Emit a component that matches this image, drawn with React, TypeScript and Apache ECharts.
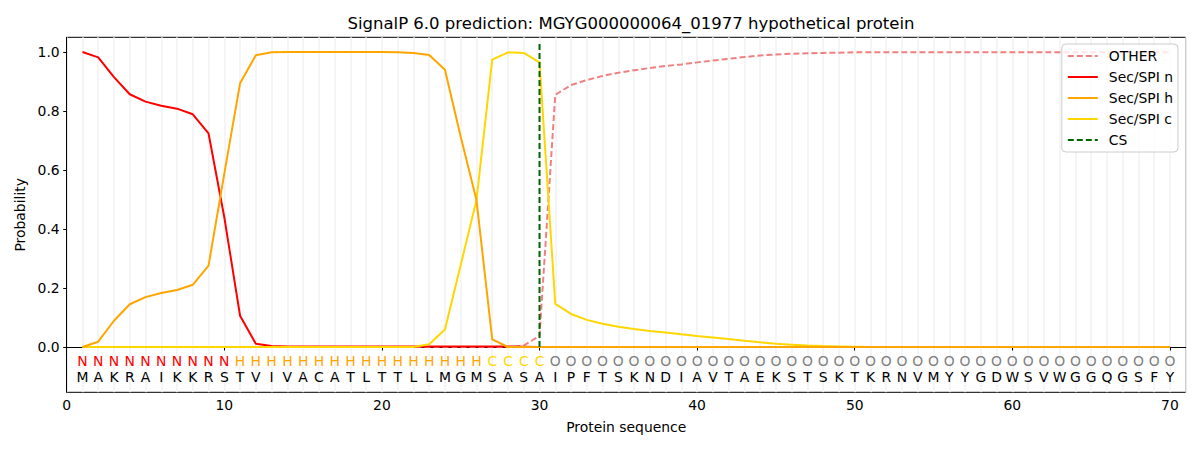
import React, { useEffect, useRef } from "react";
import * as echarts from "echarts";

const residues = "MAKRAIKKRSTVIVACATLTTLLMGMSASAIPFTSKNDIAVTAEKSTSKTKRNVMYYGDWSVWGGQGSFY".split("");
const regionLabels = "NNNNNNNNNNHHHHHHHHHHHHHHHHCCCCOOOOOOOOOOOOOOOOOOOOOOOOOOOOOOOOOOOOOOOO".split("");
const positions = residues.map((_, i) => i + 1);

const otherProb = [
  0, 0, 0, 0, 0, 0, 0, 0, 0, 0,
  0, 0, 0, 0, 0, 0, 0, 0, 0, 0,
  0, 0, 0, 0, 0, 0, 0, 0, 0.005, 0.038,
  0.855, 0.888, 0.905, 0.919, 0.93, 0.938, 0.946, 0.953, 0.958, 0.965,
  0.971, 0.977, 0.983, 0.988, 0.992, 0.994, 0.996, 0.997, 0.998, 0.999,
  0.999, 0.999, 0.999, 0.999, 0.999, 0.999, 0.999, 0.999, 0.999, 0.999,
  0.999, 0.999, 0.999, 0.999, 0.999, 0.999, 0.999, 0.999, 0.999, 0.999,
];
const secN = [
  1.0, 0.982, 0.915, 0.857, 0.832, 0.818, 0.808, 0.789, 0.724, 0.44,
  0.106, 0.011, 0.003, 0.002, 0.002, 0.002, 0.002, 0.002, 0.002, 0.002,
  0.002, 0.002, 0.002, 0.002, 0.002, 0.002, 0.002, 0.002, 0.001, 0,
  0, 0, 0, 0, 0, 0, 0, 0, 0, 0,
  0, 0, 0, 0, 0, 0, 0, 0, 0, 0,
  0, 0, 0, 0, 0, 0, 0, 0, 0, 0,
  0, 0, 0, 0, 0, 0, 0, 0, 0, 0,
];
const secH = [
  0, 0.018, 0.089, 0.145, 0.169, 0.183, 0.193, 0.211, 0.276, 0.588,
  0.894, 0.989, 0.999, 1.0, 1.0, 1.0, 1.0, 1.0, 1.0, 1.0,
  0.999, 0.997, 0.99, 0.94, 0.713, 0.498, 0.026, 0, 0, 0,
  0, 0, 0, 0, 0, 0, 0, 0, 0, 0,
  0, 0, 0, 0, 0, 0, 0, 0, 0, 0,
  0, 0, 0, 0, 0, 0, 0, 0, 0, 0,
  0, 0, 0, 0, 0, 0, 0, 0, 0, 0,
];
const secC = [
  0, 0, 0, 0, 0, 0, 0, 0, 0, 0,
  0, 0, 0, 0, 0, 0, 0, 0, 0, 0,
  0, 0, 0.009, 0.059, 0.278, 0.498, 0.974, 0.999, 0.997, 0.965,
  0.146, 0.112, 0.092, 0.079, 0.069, 0.061, 0.054, 0.049, 0.043, 0.037,
  0.032, 0.027, 0.021, 0.016, 0.011, 0.008, 0.005, 0.003, 0.002, 0.001,
  0, 0, 0, 0, 0, 0, 0, 0, 0, 0,
  0, 0, 0, 0, 0, 0, 0, 0, 0, 0,
];
const csPosition = [30, 30];
const csRange = [0, 1.037];
const xTicks = [0, 10, 20, 30, 40, 50, 60, 70];
const yTicks = [0, 0.2, 0.4, 0.6, 0.8, 1.0];

const labelColors: Record<string, string> = {
  N: "#ff0000",
  H: "#ffa500",
  C: "#ffd700",
  O: "#808080",
};

const FONT = "DejaVu Sans";

export default function App() {
  const ref = useRef<HTMLDivElement>(null);
  useEffect(() => {
    document.body.style.margin = "0";
    if (!ref.current) return;
    const chart = echarts.init(ref.current, null, { renderer: "svg" });
    const pair = (arr: number[]) => positions.map((x, i) => [x, arr[i]]);
    const lineSeries = (name: string, data: number[][], color: string, z: number, dashed: boolean) => ({
      name,
      type: "line",
      data,
      symbol: "none",
      showSymbol: false,
      z,
      lineStyle: { color, width: 2, type: dashed ? [6, 3] : "solid" },
      itemStyle: { color },
    });
    chart.setOption({
      animation: false,
      backgroundColor: "#ffffff",
      title: {
        text: "SignalP 6.0 prediction: MGYG000000064_01977 hypothetical protein",
        left: 626,
        top: 10,
        textAlign: "center",
        textStyle: { fontFamily: FONT, fontSize: 16.5, fontWeight: "normal", color: "#000" },
      },
      grid: {
        left: 66.7,
        right: 14.3,
        top: 37.3,
        bottom: 57.7,
        show: true,
        borderColor: "#000",
        borderWidth: 1,
        backgroundColor: "transparent",
      },
      legend: {
        data: ["OTHER", "Sec/SPI n", "Sec/SPI h", "Sec/SPI c", "CS"],
        orient: "vertical",
        right: 22,
        top: 44,
        itemWidth: 30,
        itemHeight: 14,
        itemGap: 7,
        padding: [5, 5, 5, 5],
        borderColor: "#cccccc",
        borderWidth: 1,
        borderRadius: 4,
        backgroundColor: "rgba(255,255,255,0.8)",
        itemStyle: { opacity: 0 },
        textStyle: { fontFamily: FONT, fontSize: 13.9, color: "#000", padding: [0, 0, 0, 6] },
      },
      xAxis: [
        {
          type: "value",
          min: 0,
          max: 71,
          name: "Protein sequence",
          nameLocation: "middle",
          nameGap: 28,
          nameTextStyle: { fontFamily: FONT, fontSize: 13.9, color: "#000" },
          axisLine: { show: true, lineStyle: { color: "#000" } },
          axisTick: { show: true, length: 3.5, lineStyle: { color: "#000" }, customValues: xTicks },
          axisLabel: { fontFamily: FONT, fontSize: 13.9, color: "#000", margin: 6, customValues: xTicks },
          splitLine: { show: false },
        },
        {
          type: "value",
          min: 0,
          max: 71,
          interval: 1,
          position: "bottom",
          axisLine: { show: false },
          axisTick: { show: false },
          axisLabel: { show: false },
          splitLine: { show: true, lineStyle: { color: "#f3f3f3", width: 1.6 } },
        },
      ],
      yAxis: {
        type: "value",
        min: -0.1536,
        max: 1.05,
        name: "Probability",
        nameLocation: "middle",
        nameGap: 38,
        nameTextStyle: { fontFamily: FONT, fontSize: 13.9, color: "#000" },
        axisLine: { show: true, lineStyle: { color: "#000" } },
        axisTick: { show: true, length: 3.5, lineStyle: { color: "#000" }, customValues: yTicks },
        axisLabel: {
          fontFamily: FONT,
          fontSize: 13.9,
          color: "#000",
          margin: 7,
          customValues: yTicks,
          formatter: (v: number) => v.toFixed(1),
        },
        splitLine: { show: false },
      },
      series: [
        lineSeries("OTHER", pair(otherProb), "#f08080", 2, true),
        lineSeries("Sec/SPI n", pair(secN), "#ff0000", 3, false),
        lineSeries("Sec/SPI h", pair(secH), "#ffa500", 5, false),
        lineSeries("Sec/SPI c", pair(secC), "#ffd700", 4, false),
        lineSeries("CS", csPosition.map((x, i) => [x, csRange[i]]), "#006400", 6, true),
        {
          name: "letters",
          type: "custom",
          data: positions.map((x) => [x, 0]),
          z: 7,
          clip: false,
          silent: true,
          renderItem: (params: any, api: any) => {
            const i = params.dataIndex;
            const p = api.coord([api.value(0), 0]);
            const lab = regionLabels[i];
            return {
              type: "group",
              children: [
                {
                  type: "text",
                  x: p[0],
                  y: p[1] + 14,
                  style: {
                    text: lab,
                    fill: labelColors[lab],
                    font: `13.9px "${FONT}"`,
                    align: "center",
                    verticalAlign: "middle",
                  },
                },
                {
                  type: "text",
                  x: p[0],
                  y: p[1] + 30,
                  style: {
                    text: residues[i],
                    fill: "#000",
                    font: `13.9px "${FONT}"`,
                    align: "center",
                    verticalAlign: "middle",
                  },
                },
              ],
            };
          },
        },
      ],
    });
    return () => chart.dispose();
  }, []);
  return <div ref={ref} style={{ width: 1200, height: 450 }} />;
}
